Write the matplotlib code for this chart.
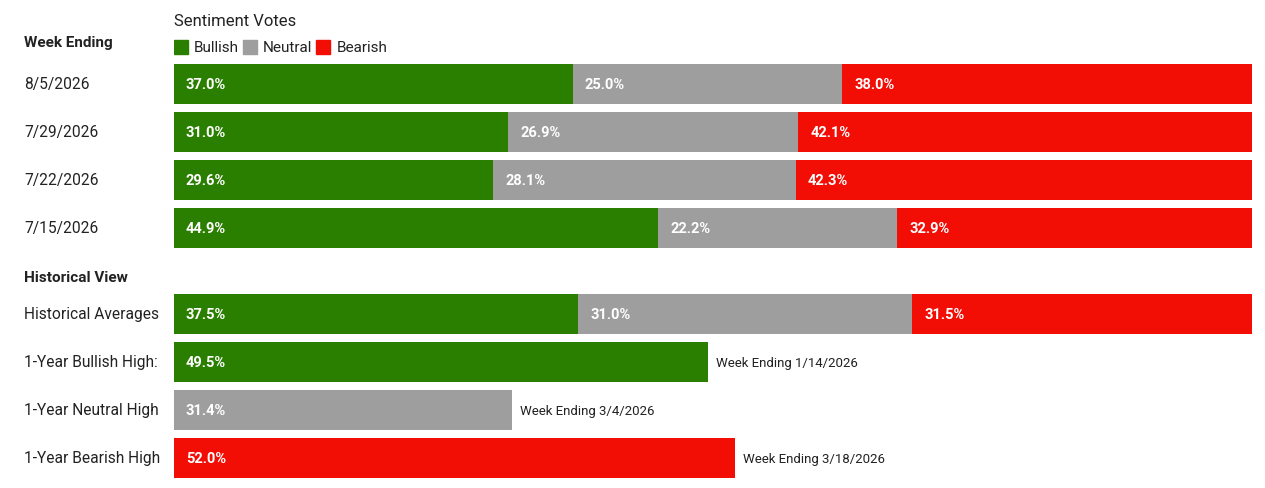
import matplotlib
matplotlib.use('Agg')
import matplotlib.pyplot as plt
from matplotlib.patches import Rectangle

# ===== DANE =====
weeks = ["8/5/2026", "7/29/2026", "7/22/2026", "7/15/2026"]
bullish = [37.0, 31.0, 29.6, 44.9]
neutral = [25.0, 26.9, 28.1, 22.2]
bearish = [38.0, 42.1, 42.3, 32.9]

hist_labels = ["Historical Averages", "1-Year Bullish High:", "1-Year Neutral High", "1-Year Bearish High"]
hist_avg = [37.5, 31.0, 31.5]
high_values = [49.5, 31.4, 52.0]
high_weeks = ["Week Ending 1/14/2026", "Week Ending 3/4/2026", "Week Ending 3/18/2026"]

GREEN = '#2a7f00'
GRAY = '#9e9e9e'
RED = '#f20d05'
colors = [GREEN, GRAY, RED]
FONT = ['Roboto', 'DejaVu Sans']
plt.rcParams['font.family'] = FONT

W, H = 1265, 489
fig = plt.figure(figsize=(W/100, H/100), dpi=100)
x0, x1 = 174, 1252
ax = fig.add_axes([x0/W, 0, (x1-x0)/W, 1])
ax.set_xlim(0, 100)
ax.set_ylim(H, 0)
ax.axis('off')

BAR_H = 40
px = 100/(x1-x0)  # procent na piksel
lab_x = (24-x0)*px
FS = 11.2

def seg_label(x, y, v):
    ax.text(x + 12*px, y, f"{v:.1f}%", color='white', fontsize=10.5, fontweight='bold',
            va='center', ha='left')

# ===== NAGLOWKI =====
ax.text(lab_x, 43, "Week Ending", fontsize=11, fontweight='bold', va='center', color='#222222', clip_on=False)
ax.text(0, 21, "Sentiment Votes", fontsize=12, va='center', color='#222222')
lx = 0
for name, c in zip(["Bullish", "Neutral", "Bearish"], colors):
    ax.add_patch(Rectangle((lx, 41), 14*px, 14, color=c))
    t = ax.text(lx + 20*px, 48, name, fontsize=11, va='center', color='#222222')
    fig.canvas.draw()
    bb = t.get_window_extent()
    lx = (bb.x1 - x0)*px + 4*px

# ===== TYGODNIE =====
for i, w in enumerate(weeks):
    y = 85 + 48*i
    ax.text(lab_x, y, w, fontsize=FS, va='center', color='#222222', clip_on=False)
    left = 0
    for v, c in zip([bullish[i], neutral[i], bearish[i]], colors):
        ax.barh(y, v, left=left, height=BAR_H, color=c)
        seg_label(left, y, v)
        left += v

# ===== HISTORIA =====
ax.text(lab_x, 278, "Historical View", fontsize=11, fontweight='bold', va='center', color='#222222', clip_on=False)
y = 315
ax.text(lab_x, y, hist_labels[0], fontsize=FS, va='center', color='#222222', clip_on=False)
left = 0
for v, c in zip(hist_avg, colors):
    ax.barh(y, v, left=left, height=BAR_H, color=c)
    seg_label(left, y, v)
    left += v

for i in range(3):
    y = 363 + 48*i
    ax.text(lab_x, y, hist_labels[i+1], fontsize=FS, va='center', color='#222222', clip_on=False)
    ax.barh(y, high_values[i], height=BAR_H, color=colors[i])
    seg_label(0, y, high_values[i])
    ax.text(high_values[i] + 8*px, y, high_weeks[i], fontsize=9.5, va='center', color='#222222')

fig.savefig('out.png', dpi=100)
